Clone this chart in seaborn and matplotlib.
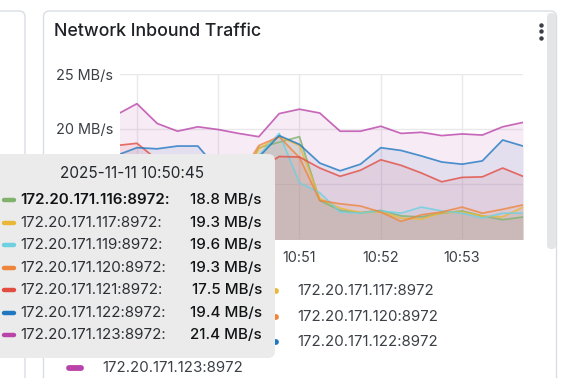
import numpy as np
import pandas as pd
import matplotlib
matplotlib.use("Agg")
import matplotlib.pyplot as plt
import matplotlib.dates as mdates
import seaborn as sns
from matplotlib.patches import FancyBboxPatch
from matplotlib.lines import Line2D

# ---------------- data ----------------
series_names = [
    "172.20.171.116:8972",
    "172.20.171.117:8972",
    "172.20.171.119:8972",
    "172.20.171.120:8972",
    "172.20.171.121:8972",
    "172.20.171.122:8972",
    "172.20.171.123:8972",
]
series_colors = ["#7EB26D", "#EAB839", "#6ED0E0", "#EF843C", "#E24D42", "#1F78C1", "#BA43A9"]

times = pd.date_range("2025-11-11 10:48:45", "2025-11-11 10:53:45", freq="15s")

v116 = [12.8, 12.5, 12.9, 12.6, 12.7, 13.0, 14.5, 18.3, 18.8, 19.3, 13.5, 12.6, 12.4, 12.6, 12.1, 12.0, 12.35, 12.55, 12.1, 11.75, 12.0]
v117 = [12.6, 12.9, 12.4, 12.8, 12.5, 12.7, 15.0, 18.2, 19.3, 18.5, 13.7, 12.8, 12.4, 12.45, 11.9, 11.8, 12.4, 12.45, 12.1, 12.0, 12.9]
v119 = [12.4, 12.7, 12.6, 12.3, 12.8, 12.5, 14.2, 17.6, 19.6, 15.1, 14.2, 12.45, 12.35, 12.55, 12.35, 12.9, 12.55, 12.35, 11.9, 12.35, 12.35]
v120 = [13.0, 12.6, 12.8, 12.9, 12.4, 12.9, 15.5, 18.5, 19.3, 17.4, 13.5, 13.2, 13.0, 12.45, 11.6, 12.2, 12.45, 12.9, 12.35, 12.7, 13.1]
v121 = [18.5, 18.7, 17.2, 16.8, 16.5, 16.0, 15.8, 16.3, 17.5, 17.45, 16.45, 15.7, 16.25, 17.2, 16.7, 16.0, 15.2, 15.6, 15.65, 16.45, 15.7]
v122 = [17.6, 18.3, 18.2, 18.45, 18.45, 16.3, 16.0, 17.45, 19.4, 18.6, 16.9, 16.2, 16.8, 18.3, 18.05, 17.55, 17.0, 16.8, 17.1, 19.0, 18.45]
v123 = [21.3, 22.3, 20.5, 19.8, 20.2, 19.95, 19.6, 19.3, 21.4, 21.8, 21.45, 19.8, 19.8, 20.25, 19.6, 19.7, 19.4, 19.55, 19.45, 20.2, 20.6]

series_values = [v116, v117, v119, v120, v121, v122, v123]

title = "Network Inbound Traffic"
y_ticks = [10, 15, 20, 25]
hover_index = 8
hover_time = "2025-11-11 10:50:45"

# ---------------- style ----------------
sns.set_style("white")
plt.rcParams["font.family"] = ["Inter", "DejaVu Sans"]

W, H = 565, 378
fig = plt.figure(figsize=(W / 100, H / 100), dpi=100)
fig.patch.set_facecolor("white")


def fx(x):
    return x / W


def fy(y):
    return 1 - y / H


# plot axes
pl, pr, pt, pb = 120, 523, 74, 239
ax = fig.add_axes([fx(pl), fy(pb), (pr - pl) / W, (pb - pt) / H], zorder=1)
ax.set_facecolor("none")

df = pd.DataFrame({
    "time": np.tile(times, len(series_names)),
    "value": np.concatenate(series_values),
    "series": np.repeat(series_names, len(times)),
})
palette = dict(zip(series_names, series_colors))

for name, vals in zip(series_names, series_values):
    ax.fill_between(times, vals, 0, color=palette[name], alpha=0.1, lw=0, zorder=1)

sns.lineplot(data=df, x="time", y="value", hue="series", hue_order=series_names,
             palette=palette, legend=False, ax=ax, linewidth=1.25, alpha=0.8,
             errorbar=None, zorder=2)

ax.set_ylim(10, 25)
ax.set_xlim(pd.Timestamp("2025-11-11 10:48:47.5"), pd.Timestamp("2025-11-11 10:53:45"))
ax.set_yticks(y_ticks)
ax.set_yticklabels([f"{t} MB/s" for t in y_ticks])
ax.xaxis.set_major_locator(mdates.MinuteLocator())
ax.xaxis.set_major_formatter(mdates.DateFormatter("%H:%M"))
ax.set_xlabel("")
ax.set_ylabel("")
ax.grid(True, color="#e9e9eb", lw=1, zorder=0)
ax.set_axisbelow(True)
for s in ax.spines.values():
    s.set_visible(False)
ax.tick_params(axis="both", length=0, labelsize=10.4, colors="#3b3f46")
ax.tick_params(axis="y", pad=5)
ax.tick_params(axis="x", pad=9)

# overlay axes in pixel coordinates
ov = fig.add_axes([0, 0, 1, 1], zorder=10)
ov.set_xlim(0, W)
ov.set_ylim(H, 0)
ov.axis("off")
ov.set_facecolor("none")

border = "#d9dde4"
# left neighbour panel
ov.add_patch(FancyBboxPatch((-40, 11), 65, 420, boxstyle="round,pad=0,rounding_size=6",
                            fc="white", ec=border, lw=1, zorder=0))
# main panel
ov.add_patch(FancyBboxPatch((43.5, 11), 513, 420, boxstyle="round,pad=0,rounding_size=6",
                            fc="none", ec=border, lw=1, zorder=0))
# scrollbar
ov.add_patch(FancyBboxPatch((547, 13), 9, 236, boxstyle="round,pad=0,rounding_size=4",
                            fc="#e4e5e7", ec="none", zorder=1))

ov.text(54, 31, title, fontsize=12.8, fontweight="medium", color="#1f2126",
        va="center", ha="left")
for dy in (-6.5, 0, 6.5):
    ov.plot([541], [31 + dy], marker="o", ms=2.2, color="#3b3f46", zorder=2)

# legend below plot
leg_rows = [290.7, 316.7, 342.0, 368.0]
leg_cols = [102, 297]
for k, (name, col) in enumerate(zip(series_names, series_colors)):
    r, c = divmod(k, 2)
    tx, ty = leg_cols[c], leg_rows[r]
    ov.add_line(Line2D([tx - 33, tx - 21], [ty, ty], color=col, lw=4.2,
                       solid_capstyle="round", zorder=2))
    ov.text(tx, ty, name, fontsize=10.8, color="#3b3f46", va="center", ha="left", zorder=2)

# tooltip
ov.add_patch(FancyBboxPatch((-12, 154), 287, 204, boxstyle="round,pad=0,rounding_size=7",
                            fc="#ebebeb", ec="none", zorder=5))
ov.text(131.5, 173, hover_time, fontsize=11.0, color="#24272c", ha="center", va="center", zorder=6)
row_y0, row_dy = 200.3, 22.5
for k, (name, col, vals) in enumerate(zip(series_names, series_colors, series_values)):
    y = row_y0 + k * row_dy
    bold = (k == 0)
    ov.add_line(Line2D([4, 14], [y, y], color=col, lw=3.2, solid_capstyle="round", zorder=6))
    ov.text(20, y, name + ":", fontsize=10.9, color="#111315" if bold else "#2c2f34",
            fontweight="semibold" if bold else "normal", ha="left", va="center", zorder=6)
    ov.text(262, y, f"{vals[hover_index]:.1f} MB/s", fontsize=10.9, color="#111315",
            fontweight="medium", ha="right", va="center", zorder=6)

fig.savefig("out.png", dpi=100, facecolor="white")
